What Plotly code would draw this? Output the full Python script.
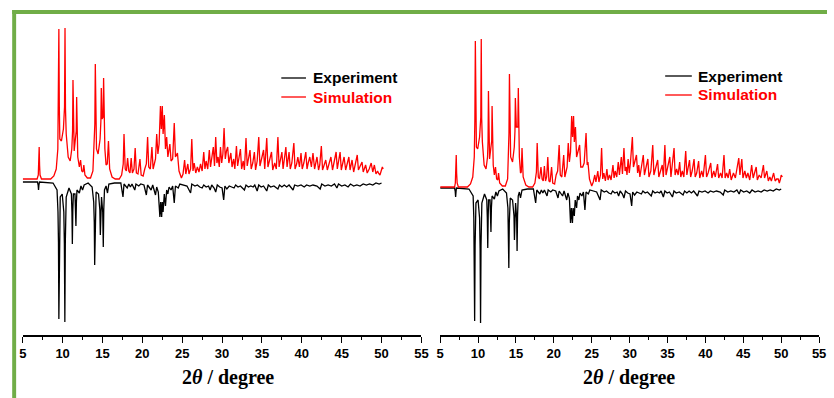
import plotly.graph_objects as go

W, H = 834, 398

# ---------------- data (2theta, intensity) ----------------
sim1 = [(5.0,0),(6.8,0),(6.95,4),(7.01,14),(7.06,32),(7.11,14),(7.17,4),(7.35,0),(8.5,0),(8.9,3),(9.2,10),(9.4,30),(9.47,70),(9.53,150),(9.59,70),(9.65,40),
(9.85,38),(10.1,50),(10.24,72),(10.3,151),(10.36,70),(10.45,45),(10.7,22),(10.95,18),(11.15,30),(11.25,48),(11.3,99),(11.35,46),(11.45,28),(11.6,40),(11.71,48),(11.76,82),
(11.81,38),(11.9,22),(12.1,12),(12.25,19),(12.4,8),(12.55,7),(12.66,14),(12.8,4),(13.1,1),(13.5,1),(13.8,8),(13.95,30),(14.04,55),(14.1,115),
(14.16,52),(14.25,30),(14.45,25),(14.7,40),(14.8,58),(14.85,91),(14.95,60),(15.08,62),(15.14,101),(15.2,48),(15.3,30),(15.45,14),(15.6,15),(15.75,38),(15.9,10),
(16.2,2),(16.6,0),(17.1,0),(17.4,4),(17.6,15),(17.7,45),(17.85,10),(18.0,8),(18.15,21),(18.3,8),(18.45,6),(18.6,21),
(18.75,6),(18.95,10),(19.1,31),(19.25,6),(19.45,5),(19.7,20),(19.85,4),(20.1,3),(20.3,10),(20.5,15),(20.66,42),(20.8,12),
(21.0,10),(21.2,32),(21.35,10),(21.5,14),(21.65,20),(21.8,45),(21.95,25),(22.1,35),(22.27,73),(22.38,50),(22.5,73),
(22.6,45),(22.76,64),(22.9,30),(23.05,42),(23.2,22),(23.45,35),(23.6,18),(23.8,20),(24.0,56),(24.15,22),(24.4,26),
(24.6,8),(24.9,1),(25.1,5),(25.3,19),(25.45,5),(25.7,15),(25.85,5),(26.05,10),(26.2,40),(26.35,8),(26.5,16),(26.7,6),
(26.9,12),(27.1,7),(27.3,15),(27.5,8),(27.7,27),(27.85,10),(28.0,18),(28.2,10),(28.4,29),(28.55,12),(28.7,20),(28.9,32),
(29.05,13),(29.2,42),(29.35,16),(29.5,22),(29.65,12),(29.8,32),(29.95,16),(30.1,25),(30.25,51),(30.4,20),(30.55,28),
(30.7,32),(30.85,16),(31.1,26),(31.25,12),(31.45,20),(31.6,10),(31.8,33),(31.95,13),(32.1,20),(32.3,30),(32.45,10),
(32.65,18),(32.8,9),(33.0,41),(33.15,13),(33.3,20),(33.5,29),(33.65,10),(33.85,16),(34.05,27),(34.2,9),(34.4,18),
(34.6,42),(34.75,13),(34.95,20),(35.2,29),(35.35,10),(35.6,41),(35.75,12),(35.95,18),(36.2,27),(36.35,9),(36.6,16),
(36.8,10),(37.0,42),(37.15,12),(37.3,18),(37.5,27),(37.65,10),(37.8,20),(38.0,32),(38.15,12),(38.4,27),(38.55,10),
(38.75,16),(39.0,36),(39.15,10),(39.35,15),(39.5,22),(39.7,12),(39.9,26),(40.05,10),(40.25,16),(40.5,27),(40.65,10),
(40.8,16),(41.0,22),(41.2,12),(41.4,26),(41.6,10),(41.9,22),(42.1,9),(42.25,14),(42.45,33),(42.6,9),(42.8,14),(43.0,19),
(43.2,9),(43.4,14),(43.65,22),(43.85,9),(44.05,16),(44.3,27),(44.45,10),(44.6,18),(44.8,27),(44.95,9),(45.1,14),
(45.3,22),(45.5,9),(45.7,16),(45.9,22),(46.05,9),(46.3,19),(46.5,7),(46.7,14),(46.95,24),(47.1,9),(47.3,12),(47.55,17),
(47.7,7),(47.85,10),(48.0,14),(48.2,6),(48.45,10),(48.7,16),(48.9,7),(49.1,14),(49.3,5),(49.5,8),(49.6,6),(49.8,4),
(49.95,8),(50.1,12),(50.2,10)]

exp1 = [(5.0,0),(6.85,0),(6.93,3),(6.98,8),(7.03,3),(7.1,0),(8.8,1),(9.3,8),(9.42,30),(9.48,60),(9.53,137),(9.58,60),(9.7,15),(9.95,12),(10.15,30),(10.22,62),(10.28,140),(10.34,60),(10.45,15),(10.8,6),
(11.1,12),(11.17,30),(11.22,62),(11.28,28),(11.35,12),(11.55,12),(11.62,24),(11.67,44),(11.73,20),(11.8,8),(12.1,11),(12.3,4),(12.5,8),(12.7,3),(13.2,1),(13.7,5),
(13.9,20),(13.97,40),(14.02,83),(14.08,36),(14.2,10),(14.5,12),(14.67,28),(14.73,53),(14.8,25),(14.88,15),(15.03,30),(15.1,65),(15.16,28),(15.25,8),(15.45,4),(15.63,11),(15.8,2),(16.5,1),(17.3,1),
(17.57,15),(17.7,2),(18.1,6),(18.3,2),(18.5,5),(18.7,2),(19.05,8),(19.2,2),(19.55,4),(19.8,2),(20.2,3),(20.5,13),
(20.65,3),(21.1,8),(21.3,3),(21.65,13),(21.8,5),(22.0,10),(22.2,35),(22.3,20),(22.42,35),(22.5,20),(22.6,30),(22.75,12),
(22.9,24),(23.05,8),(23.2,12),(23.35,5),(23.6,8),(23.8,4),(24.0,21),(24.15,4),(24.5,6),(24.7,2),(25.2,3),(25.6,4),
(26.05,11),(26.2,2),(26.6,4),(26.9,3),(27.2,5),(27.5,6),(27.7,3),(28.0,5),(28.3,4),(28.5,8),(28.7,3),(29.0,6),(29.2,10),
(29.4,3),(29.7,5),(30.0,6),(30.2,18),(30.35,4),(30.6,7),(30.9,4),(31.2,5),(31.5,6),(31.7,3),(32.0,5),(32.3,4),(32.8,8),
(33.0,3),(33.3,5),(33.6,4),(33.9,5),(34.1,3),(34.4,9),(34.6,3),(34.9,5),(35.2,4),(35.6,9),(35.8,3),(36.1,5),(36.5,4),
(37.0,7),(37.2,3),(37.5,5),(37.8,3),(38.1,5),(38.4,3),(38.9,8),(39.1,3),(39.5,4),(39.9,3),(40.3,5),(40.6,3),(41.0,4),
(41.4,3),(41.9,4),(42.3,7),(42.5,2),(42.9,4),(43.3,3),(43.7,4),(44.1,2),(44.4,6),(44.6,2),(45.0,4),(45.4,3),(45.8,5),
(46.1,2),(46.5,4),(46.9,3),(47.3,4),(47.7,2),(48.1,3),(48.5,2),(48.9,3),(49.3,1),(49.7,2),(50.0,1)]

sim2 = [(5.0,0),(6.9,0),(7.0,4),(7.07,14),(7.12,32),(7.17,14),(7.24,4),(7.4,0),(8.6,0),(9.0,3),(9.3,10),(9.5,30),(9.58,68),(9.64,146),(9.7,68),(9.78,40),
(9.95,38),(10.2,50),(10.36,70),(10.42,148),(10.48,68),(10.57,45),(10.8,22),(11.05,18),(11.25,30),(11.32,46),(11.37,96),(11.42,44),(11.52,28),(11.7,40),(11.8,46),(11.85,81),
(11.9,38),(12.0,22),(12.15,12),(12.3,20),(12.45,8),(12.6,7),(12.7,14),(12.85,4),(13.2,1),(13.6,1),(13.9,8),(14.0,30),(14.08,54),(14.14,113),
(14.2,50),(14.3,30),(14.55,25),(14.78,40),(14.87,56),(14.92,89),(15.05,60),(15.25,60),(15.31,99),(15.37,46),(15.45,30),(15.6,14),(15.7,15),(15.8,39),(15.95,10),
(16.3,2),(16.7,0),(17.2,0),(17.5,4),(17.7,15),(17.8,44),(17.95,10),(18.1,8),(18.3,20),(18.45,8),(18.6,6),(18.75,21),
(18.9,6),(19.05,10),(19.2,30),(19.35,6),(19.5,5),(19.7,20),(19.85,4),(20.1,3),(20.3,12),(20.5,16),(20.7,42),(20.85,12),
(21.05,10),(21.3,32),(21.45,10),(21.6,14),(21.75,20),(21.9,44),(22.05,25),(22.2,35),(22.35,71),(22.47,50),(22.6,71),
(22.7,45),(22.85,60),(23.0,30),(23.15,35),(23.4,42),(23.55,20),(23.8,20),(24.0,24),(24.25,54),(24.4,22),(24.5,25),
(24.7,8),(25.0,1),(25.2,5),(25.4,12),(25.55,5),(25.8,16),(25.95,5),(26.15,12),(26.3,39),(26.45,8),(26.6,14),(26.8,6),
(27.0,18),(27.15,7),(27.35,12),(27.55,7),(27.8,22),(27.95,9),(28.1,16),(28.3,10),(28.5,25),(28.65,12),(28.9,30),
(29.05,13),(29.25,39),(29.4,16),(29.55,20),(29.65,12),(29.8,28),(29.95,14),(30.1,24),(30.36,50),(30.5,20),(30.7,26),
(30.9,32),(31.05,14),(31.2,22),(31.35,10),(31.55,18),(31.8,32),(31.95,12),(32.15,18),(32.4,28),(32.55,10),(32.8,16),
(33.05,42),(33.2,12),(33.4,18),(33.7,27),(33.85,10),(34.05,16),(34.3,22),(34.45,10),(34.65,42),(34.8,12),(35.0,18),
(35.3,30),(35.45,10),(35.86,39),(36.0,12),(36.2,18),(36.4,12),(36.6,25),(36.75,10),(36.95,16),(37.15,10),(37.4,36),
(37.55,12),(37.7,18),(37.9,27),(38.05,10),(38.25,16),(38.5,28),(38.65,10),(38.85,14),(39.1,26),(39.25,9),(39.5,16),
(39.7,10),(40.0,32),(40.15,10),(40.35,14),(40.7,24),(40.85,9),(41.1,16),(41.3,10),(41.6,23),(41.75,9),(42.0,14),
(42.2,9),(42.45,32),(42.6,9),(42.8,14),(43.0,9),(43.2,18),(43.4,7),(43.7,14),(43.95,9),(44.15,18),(44.4,29),(44.55,12),
(44.8,28),(44.95,9),(45.2,16),(45.4,9),(45.6,14),(45.85,7),(46.1,22),(46.3,9),(46.5,14),(46.7,20),(46.85,7),(47.1,12),
(47.35,9),(47.65,22),(47.8,9),(48.1,16),(48.3,6),(48.5,10),(48.7,6),(49.0,14),(49.2,6),(49.4,8),(49.6,8),(49.75,4),
(49.9,8),(50.0,12),(50.15,10)]

exp2 = [(5.0,0),(6.9,0),(6.98,3),(7.04,9),(7.1,3),(7.15,0),(8.8,1),(9.35,8),(9.44,30),(9.5,60),(9.55,133),(9.61,58),(9.72,15),(10.0,12),(10.2,30),(10.27,60),(10.33,135),(10.39,58),(10.5,15),(10.85,6),
(11.15,12),(11.22,30),(11.28,60),(11.34,27),(11.4,12),(11.58,12),(11.65,24),(11.7,44),(11.76,20),(11.85,8),(12.15,11),(12.35,4),(12.55,8),(12.75,3),(13.25,1),
(13.75,5),(13.94,20),(14.0,40),(14.06,80),(14.12,35),(14.25,10),(14.55,12),(14.74,28),(14.8,52),(14.87,25),(14.95,15),(15.09,30),(15.15,63),(15.21,28),(15.3,8),(15.45,4),(15.6,10),(15.8,2),
(16.5,1),(17.3,1),(17.6,15),(17.75,2),(18.15,6),(18.35,2),(18.55,5),(18.75,2),(19.1,8),(19.25,2),(19.6,4),(19.85,2),
(20.25,3),(20.55,10),(20.7,3),(21.15,8),(21.35,3),(21.7,12),(21.85,5),(22.05,10),(22.2,35),(22.32,20),(22.45,35),
(22.55,20),(22.7,28),(22.82,12),(23.0,20),(23.12,8),(23.3,12),(23.45,5),(23.7,8),(23.9,4),(24.1,22),(24.25,4),(24.55,6),
(24.75,2),(25.25,3),(25.65,4),(26.1,12),(26.25,2),(26.65,4),(26.95,3),(27.25,5),(27.55,6),(27.75,3),(28.05,5),(28.35,4),
(28.55,8),(28.75,3),(29.05,6),(29.25,10),(29.45,3),(29.75,5),(30.05,6),(30.27,18),(30.4,4),(30.65,7),(30.95,4),
(31.25,5),(31.55,6),(31.75,3),(32.05,5),(32.35,4),(32.85,8),(33.05,3),(33.35,5),(33.65,4),(33.95,5),(34.15,3),
(34.45,9),(34.65,3),(34.95,5),(35.25,4),(35.65,9),(35.85,3),(36.15,5),(36.55,4),(37.05,7),(37.25,3),(37.55,5),(37.85,3),
(38.15,5),(38.45,3),(38.95,8),(39.15,3),(39.55,4),(39.95,3),(40.35,5),(40.65,3),(41.05,4),(41.45,3),(41.95,4),(42.35,7),
(42.55,2),(42.95,4),(43.35,3),(43.75,4),(44.15,2),(44.45,6),(44.65,2),(45.05,4),(45.45,3),(45.85,5),(46.15,2),(46.55,4),
(46.95,3),(47.35,4),(47.75,2),(48.15,3),(48.55,2),(48.95,3),(49.35,1),(49.75,2),(50.0,1)]

x_ticks = [5, 10, 15, 20, 25, 30, 35, 40, 45, 50, 55]
legend_labels = ["Experiment", "Simulation"]
x_title = "<b>2<i>θ</i> / degree</b>"

# ---------------- style / layout constants ----------------
SIM_OFF = [156, 148]   # vertical offset of simulated pattern per panel
EXP_OFF = [153, 147]   # vertical offset of experimental pattern per panel
RED, BLACK, GREEN = "#ff0000", "#000000", "#70ad47"

def px(x): return x / W
def py(y): return (H - y) / H

panels = [dict(sim=sim1, exp=exp1, xd=[px(19), px(423)]),
          dict(sim=sim2, exp=exp2, xd=[px(442), px(826)])]

fig = go.Figure()
for i, p in enumerate(panels):
    xa = "x" if i == 0 else "x2"
    ya = "y" if i == 0 else "y2"
    ex, ey = zip(*p["exp"])
    sx, sy = zip(*p["sim"])
    fig.add_trace(go.Scatter(x=list(ex), y=[EXP_OFF[i] - v for v in ey], mode="lines",
                             line=dict(color=BLACK, width=1.3), name=legend_labels[0],
                             xaxis=xa, yaxis=ya, showlegend=False))
    fig.add_trace(go.Scatter(x=list(sx), y=[SIM_OFF[i] + v for v in sy], mode="lines",
                             line=dict(color=RED, width=1.3), name=legend_labels[1],
                             xaxis=xa, yaxis=ya, showlegend=False))

xcommon = dict(range=[5, 55], tickvals=x_ticks, ticktext=[str(t) for t in x_ticks],
               showline=True, linecolor=BLACK, linewidth=1.6, ticks="outside", ticklen=6,
               tickwidth=1.4, tickcolor=BLACK, showgrid=False, zeroline=False,
               tickfont=dict(family="Liberation Sans, Arial", size=13, color=BLACK, weight="bold"),
               minor=dict(tickvals=[7.5 + 5 * k for k in range(10)], ticks="outside", ticklen=3,
                          tickwidth=1.4, tickcolor=BLACK, showgrid=False),
               fixedrange=True)
ycommon = dict(range=[0, 315], visible=False, showgrid=False, zeroline=False,
               domain=[py(335), py(20)], fixedrange=True)

fig.update_layout(
    width=W, height=H, margin=dict(l=0, r=0, t=0, b=0),
    paper_bgcolor="white", plot_bgcolor="white", showlegend=False,
    xaxis=dict(domain=panels[0]["xd"], anchor="y", **xcommon),
    xaxis2=dict(domain=panels[1]["xd"], anchor="y2", **xcommon),
    yaxis=dict(anchor="x", **ycommon),
    yaxis2=dict(anchor="x2", **ycommon),
)

shapes = [
    dict(type="rect", xref="paper", yref="paper", x0=px(8.3), x1=px(12.3), y0=py(398), y1=py(10),
         fillcolor=GREEN, line=dict(width=0), layer="above"),
    dict(type="rect", xref="paper", yref="paper", x0=px(8.3), x1=px(834), y0=py(14), y1=py(10),
         fillcolor=GREEN, line=dict(width=0), layer="above"),
]
annotations = []
legend_pos = [dict(lx0=281, lx1=306, tx=311, y0=78, y1=97),
              dict(lx0=670, lx1=697, tx=701, y0=76, y1=95)]
title_pos = [227, 633]
for i, lp in enumerate(legend_pos):
    for lab, col, yy in [(legend_labels[0], BLACK, lp["y0"]), (legend_labels[1], RED, lp["y1"])]:
        shapes.append(dict(type="line", xref="paper", yref="paper", x0=px(lp["lx0"]), x1=px(lp["lx1"]),
                           y0=py(yy), y1=py(yy), line=dict(color=col, width=1.3)))
        annotations.append(dict(xref="paper", yref="paper", x=px(lp["tx"]), y=py(yy), text="<b>%s</b>" % lab,
                                showarrow=False, xanchor="left", yanchor="middle",
                                font=dict(family="Liberation Sans, Arial", size=15.5, color=col)))
    annotations.append(dict(xref="paper", yref="paper", x=px(title_pos[i]), y=py(377), text=x_title,
                            showarrow=False, xanchor="center", yanchor="middle",
                            font=dict(family="Liberation Serif, Times New Roman", size=20, color=BLACK)))
fig.update_layout(shapes=shapes, annotations=annotations)

fig.write_html("out.html")
